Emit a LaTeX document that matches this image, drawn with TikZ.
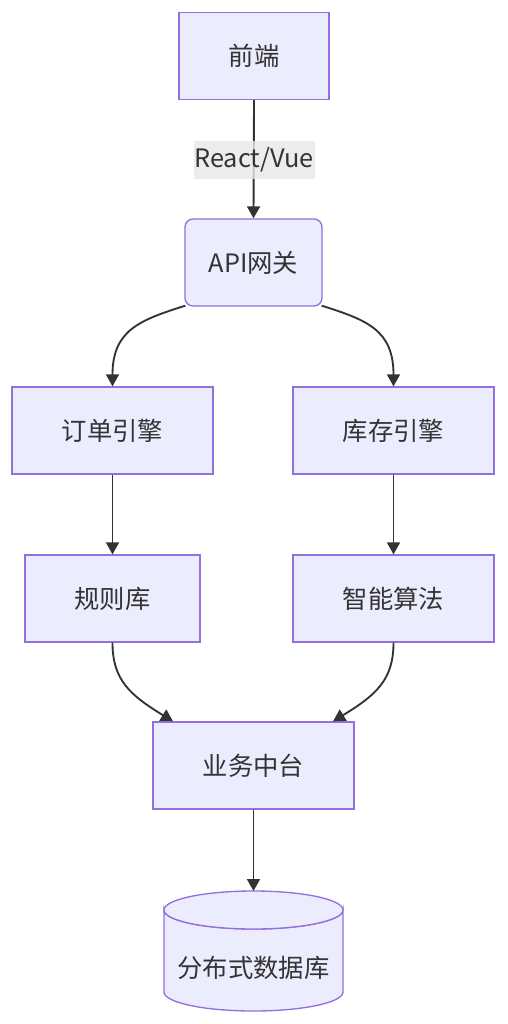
\documentclass[tikz,border=0pt]{standalone}
\usepackage{fontspec}
\newfontfamily\cjk{Noto Sans CJK SC}
\usetikzlibrary{arrows.meta}
\definecolor{nfill}{HTML}{ECECFF}
\definecolor{nborder}{HTML}{9370DB}
\definecolor{nline}{HTML}{333333}
\definecolor{lblbg}{HTML}{E8E8E8}
\tikzset{
  box/.style={draw=nborder, fill=nfill, line width=1pt, minimum height=65.25pt,
    font=\cjk\fontsize{19}{23}\selectfont, text=nline, inner sep=0pt},
  arr/.style={draw=nline, line width=1.4pt, -{Triangle[length=9pt,width=9.75pt]}},
  lbl/.style={fill=lblbg, fill opacity=0.8, text opacity=1, text=nline,
    font=\cjk\fontsize{19}{23}\selectfont, minimum width=90.75pt, minimum height=28.5pt, inner sep=0pt}
}
\begin{document}
\begin{tikzpicture}[x=0.75pt,y=-0.75pt]
\useasboundingbox[fill=white] (0,0) rectangle (507,1024);
\node[box, minimum width=112.5pt] (fe) at (254,56) {前端};
\node[box, minimum width=102.75pt, rounded corners=6pt] (api) at (253.5,262.5) {API网关};
\node[box, minimum width=150.75pt] (order) at (112.5,430.5) {订单引擎};
\node[box, minimum width=150.75pt] (stock) at (393.5,430.5) {库存引擎};
\node[box, minimum width=131.25pt] (rules) at (112.5,598.5) {规则库};
\node[box, minimum width=150.75pt] (algo) at (393.5,598.5) {智能算法};
\node[box, minimum width=150.75pt] (mid) at (253.5,765.5) {业务中台};
% cylinder
\path[fill=nfill, draw=nborder, line width=1pt]
  (164,910) -- (164,992) arc[start angle=180, end angle=0, x radius=89.5, y radius=19]
  -- (343,910) arc[start angle=0, end angle=180, x radius=89.5, y radius=19] -- cycle;
\path[fill=nfill, draw=nborder, line width=1pt] (253.5,910) ellipse[x radius=89.5, y radius=19];
\coordinate (dbtop) at (253.5,891);
\node[font=\cjk\fontsize{19}{23}\selectfont, text=nline, inner sep=0pt] (db) at (253.5,968) {分布式数据库};
% edges
\draw[arr] (fe.south) -- (api.north);
\node[lbl] (lab) at (254,160) {React/Vue};
\draw[arr] ([shift={(1,-1)}]api.south west) .. controls (140,320) and (112.5,330) .. (order.north);
\draw[arr] ([shift={(-1,-1)}]api.south east) .. controls (367,320) and (393.5,330) .. (stock.north);
\draw[arr] (order.south) -- (rules.north);
\draw[arr] (stock.south) -- (algo.north);
\draw[arr] (rules.south) .. controls (112.5,680) and (130,695) .. (mid.north west -| 173,0);
\draw[arr] (algo.south) .. controls (393.5,680) and (376,695) .. (mid.north west -| 333,0);
\draw[arr] (mid.south) -- (dbtop);
\end{tikzpicture}
\end{document}
